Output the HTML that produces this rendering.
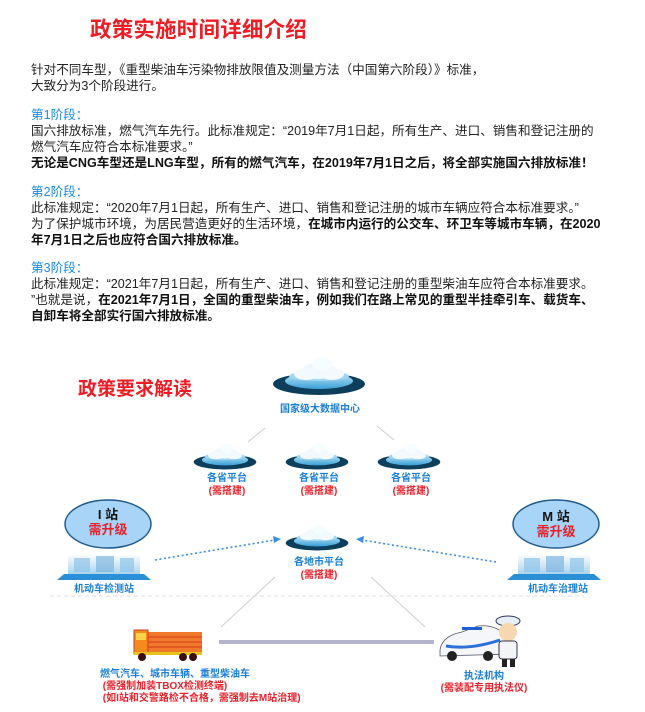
<!DOCTYPE html>
<html><head><meta charset="utf-8"><style>
body{margin:0;background:#fff;}
#p{position:relative;width:645px;height:712px;overflow:hidden;background:#fff;font-family:"Liberation Sans","Noto Sans CJK SC",sans-serif;}
.t{position:absolute;white-space:nowrap;}
.body{position:absolute;left:31px;font-size:12.6px;line-height:16px;color:#222;white-space:nowrap;}
.blue{color:#1a8ae8;}
b{font-weight:bold;color:#111;}
.lb{position:absolute;white-space:nowrap;font-weight:bold;font-size:10px;text-align:center;transform:translateX(-50%);}
.bl{color:#1b7fd6;}.rd{color:#e8202a;}
</style></head><body><div id="p">
<div class="t" style="left:90px;top:13px;font-size:21.5px;font-weight:bold;color:#ee1c25;letter-spacing:0.2px">政策实施时间详细介绍</div>
<div class="body" style="top:62px">针对不同车型，《重型柴油车污染物排放限值及测量方法（中国第六阶段）》标准，<br>大致分为3个阶段进行。</div>
<div class="body" style="top:107px"><span class="blue">第1阶段：</span><br>国六排放标准，燃气汽车先行。此标准规定：“2019年7月1日起，所有生产、进口、销售和登记注册的<br>燃气汽车应符合本标准要求。”<br><b>无论是CNG车型还是LNG车型，所有的燃气汽车，在2019年7月1日之后，将全部实施国六排放标准！</b></div>
<div class="body" style="top:184px"><span class="blue">第2阶段：</span><br>此标准规定：“2020年7月1日起，所有生产、进口、销售和登记注册的城市车辆应符合本标准要求。”<br>为了保护城市环境，为居民营造更好的生活环境，<b>在城市内运行的公交车、环卫车等城市车辆，在2020</b><br><b>年7月1日之后也应符合国六排放标准。</b></div>
<div class="body" style="top:260px"><span class="blue">第3阶段：</span><br>此标准规定：“2021年7月1日起，所有生产、进口、销售和登记注册的重型柴油车应符合本标准要求。<br>”也就是说，<b>在2021年7月1日，全国的重型柴油车，例如我们在路上常见的重型半挂牵引车、载货车、</b><br><b>自卸车将全部实行国六排放标准。</b></div>

<div class="t" style="left:78px;top:374px;font-size:19px;font-weight:bold;color:#ee1c25">政策要求解读</div>

<svg style="position:absolute;left:0;top:0" width="645" height="712">
<defs>
<linearGradient id="g" x1="0" y1="0" x2="0" y2="1"><stop offset="0" stop-color="#bfe6f8"/><stop offset="1" stop-color="#3a9fd6"/></linearGradient>
<linearGradient id="bd" x1="0" y1="0" x2="0" y2="1"><stop offset="0" stop-color="#ffffff"/><stop offset="1" stop-color="#a9d3ee"/></linearGradient>
<g id="cl">
<ellipse cx="0" cy="0" rx="46" ry="11" fill="#0d3f5c"/>
<ellipse cx="0" cy="-3" rx="34" ry="8" fill="url(#g)"/>
<ellipse cx="0" cy="-8" rx="30" ry="5" fill="#9fd6f2"/>
<ellipse cx="0" cy="-13" rx="18" ry="8" fill="#eef8fd"/>
<ellipse cx="-13" cy="-10" rx="12" ry="6" fill="#f3fafe"/>
<ellipse cx="13" cy="-10" rx="12" ry="6" fill="#f3fafe"/>
<ellipse cx="3" cy="-20" rx="10" ry="7" fill="#f7fcff"/>
</g>
<g id="bld">
<polygon points="-47,18 -40,12 40,12 47,18" fill="#2a8fd4"/>
<rect x="-36" y="-8" width="72" height="20" fill="url(#bd)"/>
<rect x="-30" y="-4" width="16" height="14" fill="#8fc4e8" opacity=".7"/>
<rect x="-8" y="-6" width="18" height="16" fill="#7fb6df" opacity=".7"/>
<rect x="16" y="-4" width="14" height="14" fill="#8fc4e8" opacity=".7"/>
</g>
</defs>
<g stroke="#cfcfcf" stroke-width="1" fill="none">
<line x1="265" y1="428" x2="248" y2="442"/><line x1="377" y1="426" x2="394" y2="440"/>
<line x1="275" y1="577" x2="221" y2="627"/><line x1="371" y1="577" x2="425" y2="627"/>
</g>
<line x1="50" y1="596" x2="584" y2="596" stroke="#ddd" stroke-dasharray="4,3"/>
<use href="#cl" transform="translate(319,384)"/>
<use href="#cl" transform="translate(225,462) scale(0.68)"/>
<use href="#cl" transform="translate(317,462) scale(0.68)"/>
<use href="#cl" transform="translate(409,462) scale(0.68)"/>
<use href="#cl" transform="translate(317,543) scale(0.68)"/>
<ellipse cx="108" cy="524" rx="43" ry="24" fill="#a8d5f7" stroke="#1f5b8c" stroke-width="1.5"/>
<ellipse cx="556" cy="524" rx="43" ry="24" fill="#a8d5f7" stroke="#1f5b8c" stroke-width="1.5"/>
<use href="#bld" transform="translate(104,562)"/>
<use href="#bld" transform="translate(554,562)"/>
<g stroke="#3a8fe0" stroke-width="1.6" stroke-dasharray="2,2.5" fill="none">
<line x1="155" y1="560" x2="275" y2="540"/><line x1="496" y1="562" x2="362" y2="540"/>
</g>
<polygon points="281,539 273,536 274,543" fill="#3a8fe0"/>
<polygon points="356,539 364,536 363,543" fill="#3a8fe0"/>
<rect x="219" y="640" width="215" height="4" fill="#b4b4cc"/>
<rect x="142" y="632" width="60" height="20" fill="#f0782a"/>
<g stroke="#d63b1a" stroke-width="1"><line x1="142" y1="637" x2="202" y2="637"/><line x1="142" y1="642" x2="202" y2="642"/><line x1="142" y1="647" x2="202" y2="647"/></g>
<rect x="134" y="630" width="14" height="24" fill="#f58b1f" stroke="#c8401a"/>
<rect x="136" y="633" width="10" height="7" fill="#ffd24a"/>
<rect x="134" y="652" width="68" height="3" fill="#e8c21a"/>
<circle cx="142" cy="657" r="4" fill="#3a1010"/><circle cx="183" cy="657" r="4" fill="#3a1010"/><circle cx="193" cy="657" r="4" fill="#3a1010"/>
<path d="M440 650 Q442 636 462 632 L478 626 Q496 624 506 636 L512 654 L440 656 Z" fill="#f4f6fa" stroke="#556" stroke-width="0.8"/>
<rect x="462" y="627" width="20" height="3" fill="#1f5fd0"/>
<path d="M446 646 Q470 650 500 640" stroke="#2b6fd8" stroke-width="3" fill="none"/>
<circle cx="452" cy="656" r="5" fill="#222"/><circle cx="488" cy="656" r="5" fill="#222"/>
<ellipse cx="508" cy="621" rx="12" ry="5" fill="#e8eef6" stroke="#335"/>
<circle cx="508" cy="632" r="9" fill="#f7d7b0"/>
<rect x="499" y="641" width="18" height="18" rx="3" fill="#f2f4f8" stroke="#334"/>
<rect x="502" y="659" width="5" height="8" fill="#222"/><rect x="510" y="659" width="5" height="8" fill="#222"/>
</svg>

<div class="lb bl" style="left:320px;top:400px">国家级大数据中心</div>
<div class="lb bl" style="left:227px;top:472px;line-height:13px">各省平台<br><span class="rd">(需搭建)</span></div>
<div class="lb bl" style="left:319px;top:472px;line-height:13px">各省平台<br><span class="rd">(需搭建)</span></div>
<div class="lb bl" style="left:411px;top:472px;line-height:13px">各省平台<br><span class="rd">(需搭建)</span></div>
<div class="lb bl" style="left:319px;top:556px;line-height:13px">各地市平台<br><span class="rd">(需搭建)</span></div>
<div class="lb" style="left:108px;top:507px;font-size:13px;line-height:15px;color:#111">I 站<br><span class="rd">需升级</span></div>
<div class="lb" style="left:556px;top:509px;font-size:13px;line-height:15px;color:#111">M 站<br><span class="rd">需升级</span></div>
<div class="lb bl" style="left:104px;top:580px">机动车检测站</div>
<div class="lb bl" style="left:558px;top:580px">机动车治理站</div>
<div class="lb bl" style="left:100px;top:669px;line-height:12px;text-align:left;transform:none">燃气汽车、城市车辆、重型柴油车<br><span class="rd">&nbsp;(需强制加装TBOX检测终端)</span><br><span class="rd">&nbsp;(如I站和交警路检不合格，需强制去M站治理)</span></div>
<div class="lb bl" style="left:484px;top:671px;line-height:12px">执法机构<br><span class="rd">(需装配专用执法仪)</span></div>
</div></body></html>
